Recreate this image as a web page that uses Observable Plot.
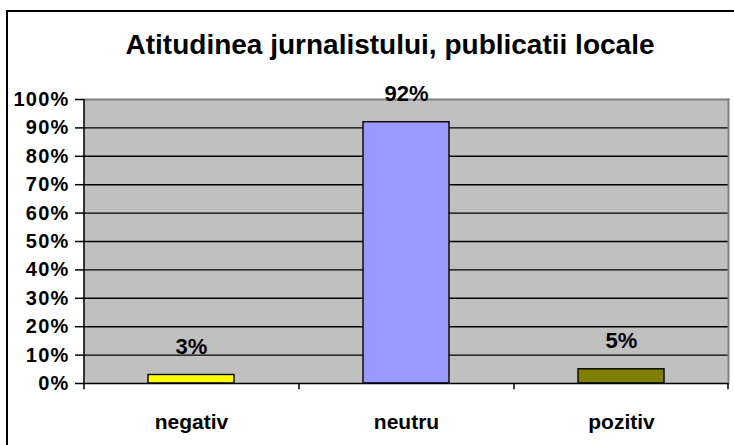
<!DOCTYPE html>
<html>
<head>
<meta charset="utf-8">
<script src="https://cdn.jsdelivr.net/npm/d3@7"></script>
<script src="https://cdn.jsdelivr.net/npm/@observablehq/plot@0.6"></script>
<style>
  html, body { margin: 0; padding: 0; background: #fff; }
  #wrap { position: relative; width: 734px; height: 445px; overflow: hidden; }
  #frame { position: absolute; left: 6px; top: 10px; width: 760px; height: 470px; border: 2px solid #000; box-sizing: border-box; pointer-events: none; }
  #wrap svg { position: absolute; left: 0; top: 0; }
  .ytl text { letter-spacing: 1.2px; }
</style>
</head>
<body>
<div id="wrap"><div id="frame"></div></div>
<script>
const title = "Atitudinea jurnalistului, publicatii locale";
const categories = ["negativ", "neutru", "pozitiv"];
const values = [3, 92, 5];
const colors = ["#FFFF00", "#9999FF", "#808000"];
const yTicks = [0, 10, 20, 30, 40, 50, 60, 70, 80, 90, 100];

const W = 734, H = 445;
const mL = 83, mR = 6, mT = 99, mB = 62;
const step = (W - mL - mR) / categories.length;

const data = categories.map((c, i) => ({cat: c, value: values[i], color: colors[i]}));
const font = "'Liberation Sans', Arial, sans-serif";

const chart = Plot.plot({
  width: W,
  height: H,
  marginLeft: mL,
  marginRight: mR,
  marginTop: mT,
  marginBottom: mB,
  style: {fontFamily: font, background: "transparent", overflow: "visible"},
  x: {domain: categories, paddingInner: 0.6, paddingOuter: 0.3},
  y: {domain: [0, 100]},
  marks: [
    Plot.frame({fill: "#C0C0C0", stroke: null}),
    Plot.ruleY(yTicks.filter(d => d > 0 && d < 100), {stroke: "#000", strokeWidth: 1.4}),
    Plot.frame({anchor: "top", stroke: "#808080", strokeWidth: 2}),
    Plot.frame({anchor: "right", stroke: "#808080", strokeWidth: 2}),
    Plot.barY(data, {x: "cat", y: "value", fill: "color", stroke: "#000", strokeWidth: 1.4}),
    Plot.text(data, {x: "cat", y: "value", text: d => d.value + "%", lineAnchor: "bottom", dy: -21, fontSize: 22, fontWeight: "bold", fill: "#000"}),
    Plot.ruleY([0], {stroke: "#000", strokeWidth: 1.5}),
    Plot.axisY({ticks: yTicks, tickFormat: d => d + "%", tickSize: 8, tickPadding: 6, fontSize: 20, fontWeight: "bold", stroke: "#000", strokeWidth: 1.5, label: null, fill: "#000", className: "ytl"}),
    Plot.ruleX(categories, {x: d => d, dx: -step / 2, y1: 0, y2: 100, stroke: "#000", strokeWidth: 1.5, filter: (d, i) => i === 0}),
    Plot.ruleX(categories, {x: d => d, dx: -step / 2, y1: 0, y2: -2.2, stroke: "#000", strokeWidth: 1.5}),
    Plot.ruleX([categories[categories.length - 1]], {x: d => d, dx: step / 2 - 1, y1: 0, y2: -2.2, stroke: "#000", strokeWidth: 1.5}),
    Plot.axisX({tickSize: 0, tickPadding: 31, fontSize: 21, fontWeight: "bold", label: null, fill: "#000"}),
    Plot.text([title], {frameAnchor: "top", dx: -16, dy: -54, lineAnchor: "middle", fontSize: 28, fontWeight: "bold", fill: "#000"})
  ]
});
document.getElementById("wrap").appendChild(chart);
</script>
</body>
</html>
